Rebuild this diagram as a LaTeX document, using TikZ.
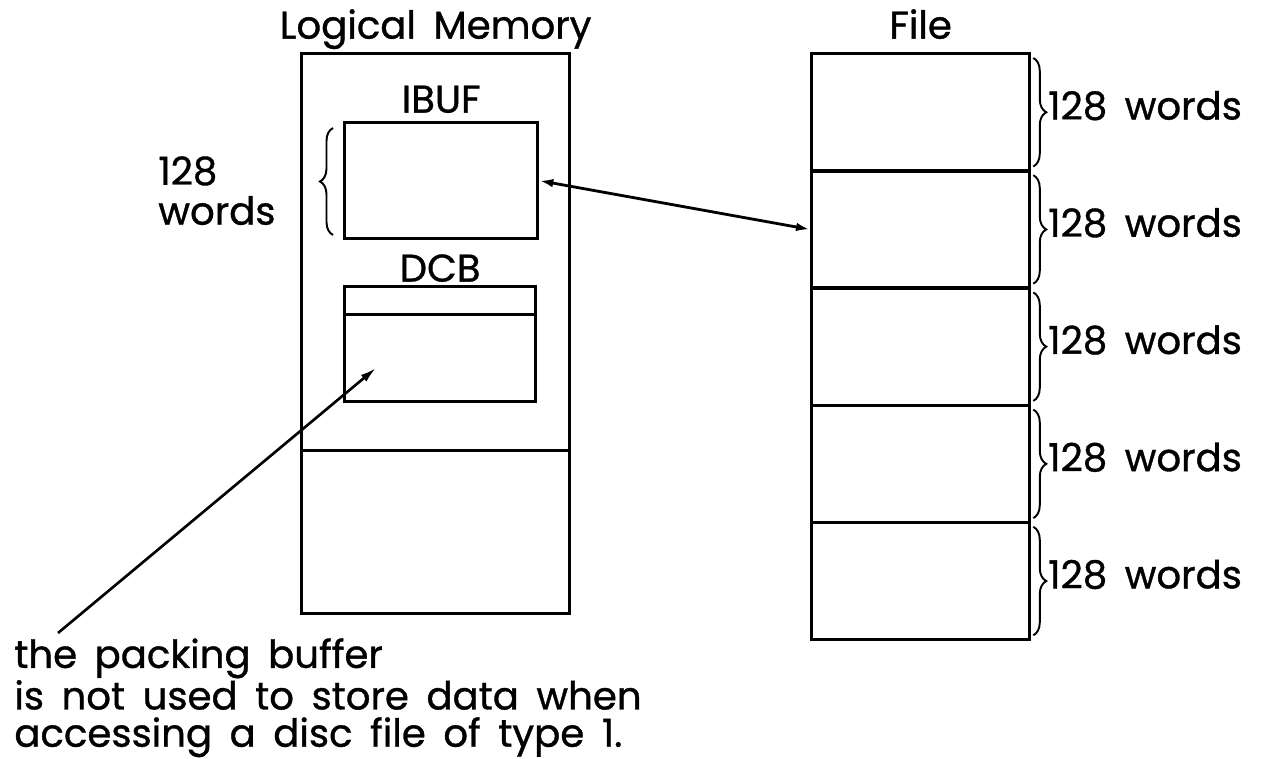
\documentclass[tikz,border=0pt]{standalone}
\usepackage{fontspec}
\setmainfont{Poppins}[UprightFeatures={FakeBold=0.9},WordSpace=1.7]
\usetikzlibrary{arrows.meta,positioning,decorations.pathreplacing}
\tikzset{
  memframe/.style={rectangle,draw=black,line width=1.9pt,inner sep=0pt,
                   anchor=north west},
  lbl/.style={inner sep=0pt,font=\fontsize{22}{22.7}\selectfont,text depth=0pt},
  brc/.style={decorate,decoration={brace,amplitude=0.26cm},line width=1.1pt},
  dblarr/.style={{Latex[length=0.28cm,width=0.17cm]}-{Latex[length=0.28cm,width=0.17cm]},
                 line width=1.6pt},
  ptrarr/.style={-{Latex[length=0.32cm,width=0.17cm]},line width=1.5pt}
}

\begin{document}
\begin{tikzpicture}[x=0.02cm,y=-0.02cm]
  \useasboundingbox (0,0) rectangle (1262,759);

  % Logical memory
  \node[memframe,minimum width=5.36cm,minimum height=7.94cm] (lmup) at (300,52) {};
  \node[memframe,minimum width=5.36cm,minimum height=3.26cm] (lmlow) at (300,449) {};
  \node[lbl,above=0.26cm of lmup] (lmtitle) {Logical Memory};

  % IBUF
  \node[memframe,minimum width=3.86cm,minimum height=2.32cm] (ibuf) at (343,121) {};
  \node[lbl,above=0.16cm of ibuf] (ibuftitle) {IBUF};
  \draw[brc] (333,235) -- (333,128);
  \node[lbl,align=left,anchor=north west] (ibufsize) at (158,156) {128\\words};

  % DCB
  \node[memframe,minimum width=3.82cm,minimum height=0.56cm] (dcbhead) at (343,285) {};
  \node[memframe,minimum width=3.82cm,minimum height=1.74cm] (dcbbody) at (343,313) {};
  \node[lbl,above=0.06cm of dcbhead] (dcbtitle) {DCB};

  % File
  \foreach \i in {1,...,5}{
    \node[memframe,minimum width=4.36cm,minimum height=2.344cm] (row\i)
        at (810,{52+117.2*(\i-1)}) {};
    \draw[brc] ([xshift=0.04cm,yshift=-0.12cm]row\i.north east)
        -- ([xshift=0.04cm,yshift=0.12cm]row\i.south east)
        node[lbl,midway,right=0.28cm,yshift=0.14cm] {128 words};
  }
  \node[lbl,above=0.26cm of row1] (filetitle) {File};

  % Arrows
  \draw[dblarr] (ibuf.east) -- (row2.west);
  \coordinate (pkstart) at (58,633);
  \coordinate (pkend) at (376,368);
  \draw[ptrarr] (pkstart) -- (pkend);

  % Note
  \node[lbl,align=left,anchor=north west,font=\fontsize{22}{21.2}\selectfont]
      (note) at (14,638)
      {the packing buffer\\is not used to store data when\\accessing a disc file of type 1.};

\end{tikzpicture}
\end{document}
